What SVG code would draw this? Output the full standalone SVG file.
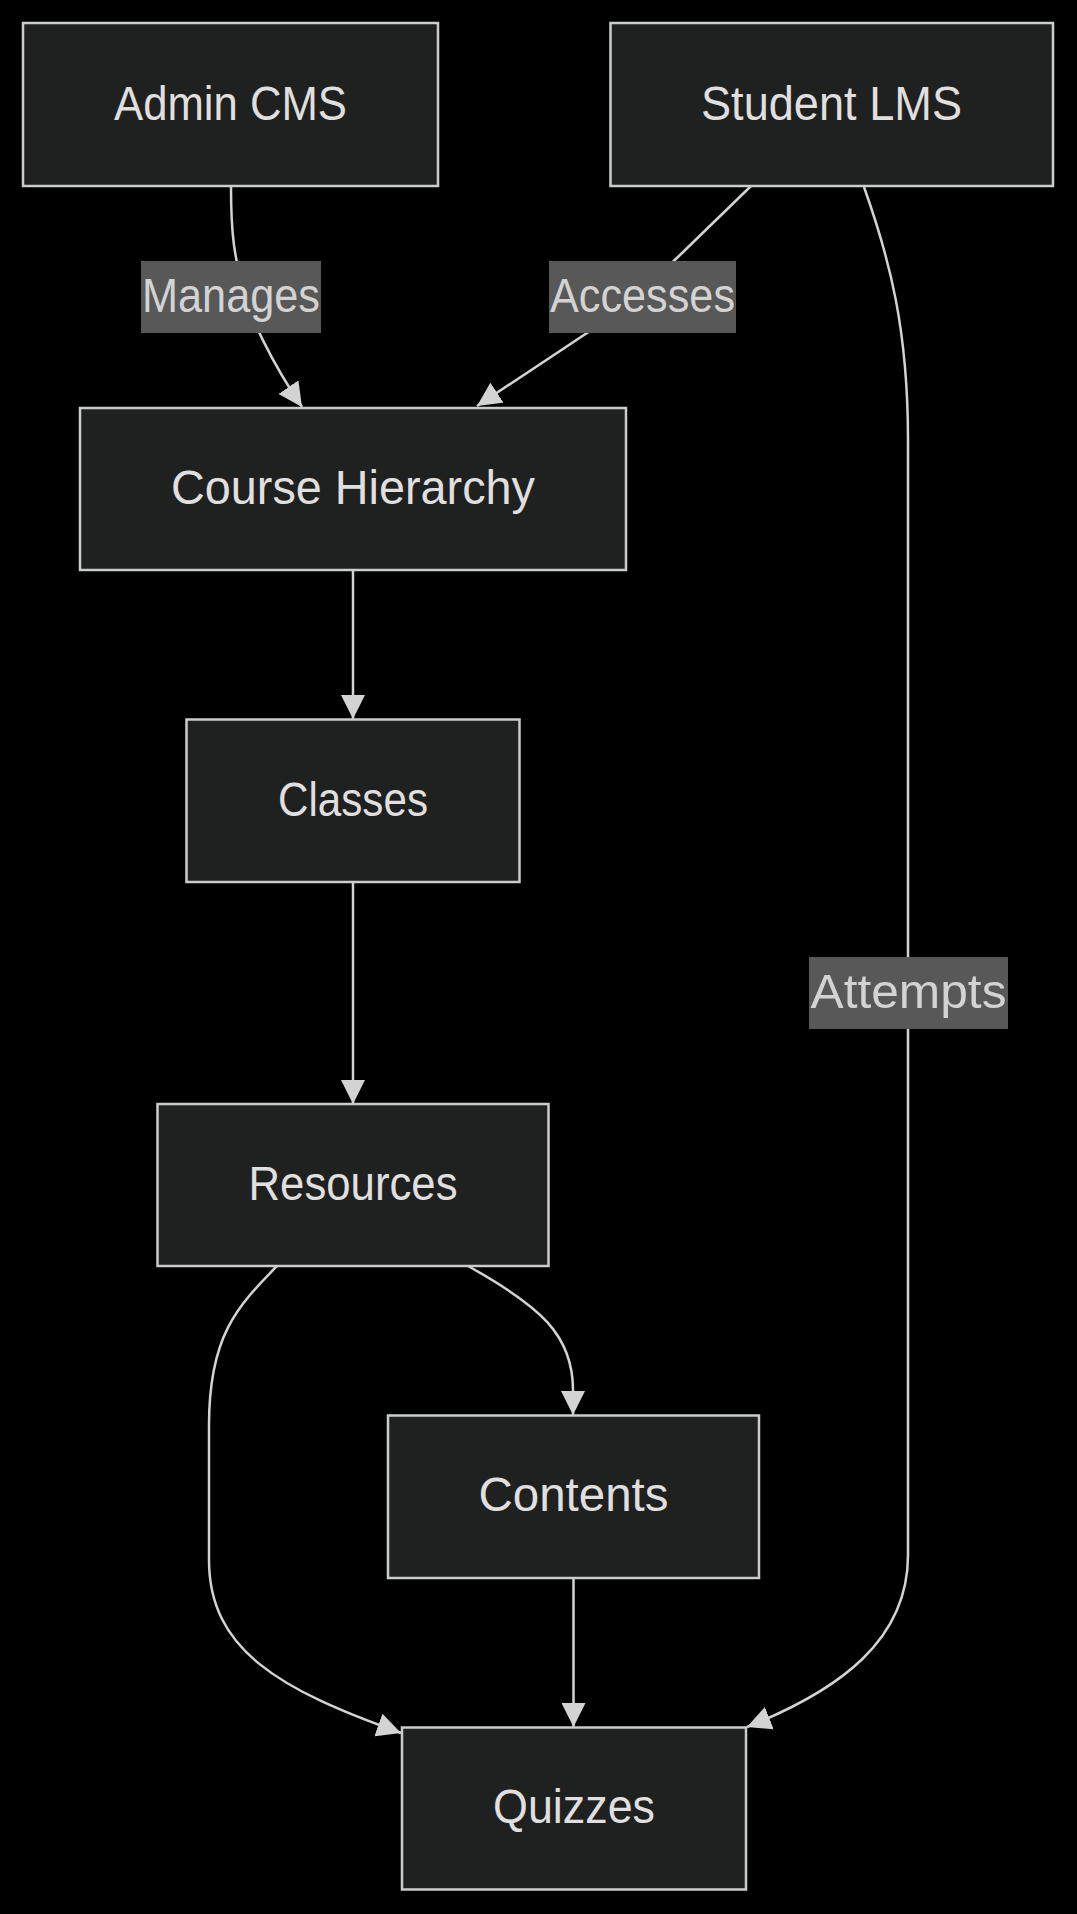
<svg xmlns="http://www.w3.org/2000/svg" width="1077" height="1914" viewBox="0 0 1077 1914">
<style>
.node rect{fill:#1f2020;stroke:#cccccc;stroke-width:2.5}
.node text{fill:#e0dfdf;font-family:"Liberation Sans",Arial,sans-serif;font-size:48px;text-anchor:middle}
.edge{fill:none;stroke:#d3d3d3;stroke-width:2.5}
.lbl rect{fill:#585858}
.lbl text{fill:#d3d3d3;font-family:"Liberation Sans",Arial,sans-serif;font-size:48px;text-anchor:middle}
</style>
<defs>
<marker id="arrow" viewBox="0 0 10 10" refX="10" refY="5" markerUnits="userSpaceOnUse" markerWidth="24" markerHeight="24" orient="auto">
<path d="M0,0 L10,5 L0,10 z" fill="#d3d3d3"/>
</marker>
</defs>
<rect width="1077" height="1914" fill="#000000"/>
<g id="connectors">
<path class="edge" marker-end="url(#arrow)" d="M231,187 C231,235 234,255 245,297 C250,315 270,360 302,407"/>
<path class="edge" marker-end="url(#arrow)" d="M751,186 L680,255 Q632,302 587,333 L477,406"/>
<path class="edge" marker-end="url(#arrow)" d="M864,187 C890,260 908,330 908,440 L908,1555 C908,1640 840,1690 747,1727"/>
<path class="edge" marker-end="url(#arrow)" d="M353,571 L353,719"/>
<path class="edge" marker-end="url(#arrow)" d="M353,883 L353,1104"/>
<path class="edge" marker-end="url(#arrow)" d="M468,1266 C540,1306 573,1335 573,1390 L573,1415"/>
<path class="edge" marker-end="url(#arrow)" d="M277,1266 C238,1306 209,1335 209,1425 L209,1560 C209,1650 280,1690 401,1733"/>
<path class="edge" marker-end="url(#arrow)" d="M573.5,1579 L573.5,1727"/>
<g class="lbl" id="label-manages"><rect x="141" y="261" width="180" height="72"/><text x="231" y="312" textLength="178" lengthAdjust="spacingAndGlyphs">Manages</text></g>
<g class="lbl" id="label-accesses"><rect x="549" y="261" width="187" height="72"/><text x="642.5" y="312" textLength="185" lengthAdjust="spacingAndGlyphs">Accesses</text></g>
<g class="lbl" id="label-attempts"><rect x="809" y="957" width="199" height="72"/><text x="908.5" y="1008" textLength="196" lengthAdjust="spacingAndGlyphs">Attempts</text></g>
</g>
<g class="node" id="node-admin"><rect x="23" y="23" width="415" height="163"/><text x="230.5" y="120" textLength="233" lengthAdjust="spacingAndGlyphs">Admin CMS</text></g>
<g class="node" id="node-student"><rect x="610.5" y="23" width="442.5" height="163"/><text x="831.5" y="120" textLength="261" lengthAdjust="spacingAndGlyphs">Student LMS</text></g>
<g class="node" id="node-course"><rect x="80" y="408" width="546" height="162"/><text x="353" y="504" textLength="364" lengthAdjust="spacingAndGlyphs">Course Hierarchy</text></g>
<g class="node" id="node-classes"><rect x="186.5" y="719.5" width="333" height="162.5"/><text x="353" y="816" textLength="150" lengthAdjust="spacingAndGlyphs">Classes</text></g>
<g class="node" id="node-resources"><rect x="157.5" y="1104" width="391" height="162"/><text x="353" y="1200" textLength="209" lengthAdjust="spacingAndGlyphs">Resources</text></g>
<g class="node" id="node-contents"><rect x="388" y="1415.5" width="371" height="162.5"/><text x="573.5" y="1511" textLength="190" lengthAdjust="spacingAndGlyphs">Contents</text></g>
<g class="node" id="node-quizzes"><rect x="402" y="1727.5" width="344" height="162"/><text x="574" y="1823" textLength="162" lengthAdjust="spacingAndGlyphs">Quizzes</text></g>
</svg>
